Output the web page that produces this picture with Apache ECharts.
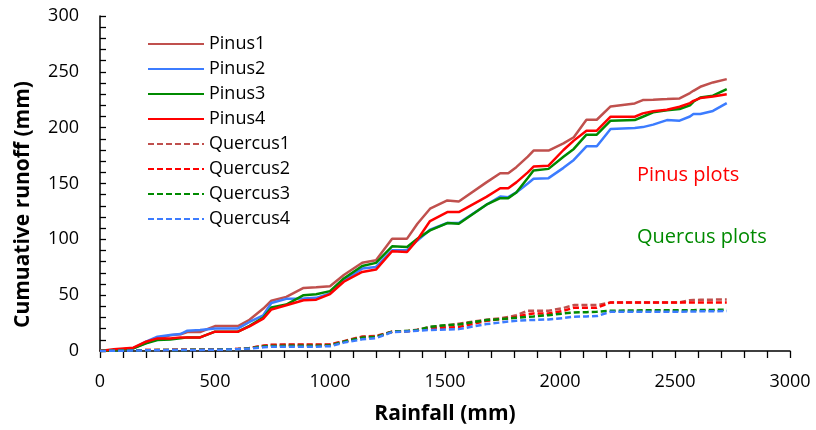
<!DOCTYPE html>
<html>
<head>
<meta charset="utf-8">
<script src="https://cdn.jsdelivr.net/npm/echarts@6/dist/echarts.min.js"></script>
<style>html,body{margin:0;padding:0;background:#fff;}#c{width:816px;height:430px;}</style>
</head>
<body>
<div id="c"></div>
<script>
const rainfall = [0,60,145,200,250,305,350,380,435,500,565,600,650,710,745,810,885,940,1000,1060,1140,1200,1270,1335,1380,1435,1510,1560,1680,1740,1775,1810,1860,1885,1950,2015,2060,2115,2160,2220,2325,2360,2405,2465,2520,2565,2580,2610,2665,2725];
const pinus1 = [0,1,2.5,7,11,14,15,17,17,22.3,22.3,22.3,28,38,45,48.5,56.5,57,58,68,79,81.3,100.6,100.6,114,127.4,134.8,133.9,151,159.2,159.2,164.6,174,179.5,179.5,186,191.4,207.1,207.1,219,221.7,224.7,225,225.6,226.2,231,233,236.6,240.5,243.5];
const pinus2 = [0,0.5,2.4,8.3,12.8,14.3,15.2,18.2,18.8,20.2,20.2,20.2,26,32,43,46.7,47,47.6,51.5,63,73.8,75.3,90.2,90.2,99,108.6,114.6,114.6,131,138.4,137.8,142,150,154.2,154.8,164,171.1,183.3,183.3,198.8,199.7,200.5,202.7,206.8,206.25,210,212.2,212.2,215,222];
const pinus3 = [0,0.5,2.4,6.8,9.8,10.3,11.3,12.2,12.2,17.3,17.3,17.3,22.5,30,39,41.6,50,50.9,53.6,65,76.2,78.9,93.8,93.2,100.5,108,114.6,114,131,136.9,136.9,142,155,161.6,163.1,174,181,193.75,193.75,206.25,206.8,209.8,213.7,215.5,216.7,220,223.2,227,228.6,234.5];
const pinus4 = [0,1.5,3,8.3,11.3,11.3,12.2,12.2,12.2,17.3,17.3,17.3,22,29,37.2,41,45.5,46,51,62,70.8,72.9,89.3,88.7,99.7,116.4,124.4,124.4,138,145.8,145.8,151,160,165.2,166,180,188.4,197.3,197.3,209.8,209.8,212.8,214.7,216,218.75,222,224,226.5,228,230];
const quercus1 = [0,0.3,0.6,0.8,1,1,1.1,1.2,1.2,1.3,1.5,1.8,2.6,4.8,5.6,5.8,5.8,5.8,6,8.8,13,13.5,17.3,17.8,19,21.5,23,24.5,28,29.2,30.5,32,36,36,36,38.5,41.1,41.1,41.1,43.5,43.5,43.5,43.5,43.5,43.5,45.5,45.7,45.8,46,46.1];
const quercus2 = [0,0.3,0.6,0.8,1,1,1.1,1.2,1.2,1.3,1.5,1.8,2.6,4.6,5.4,5.5,5.5,5.5,5.8,8.5,12.5,13,17.3,17.6,18.8,20.2,21,21.5,27,28.5,29.2,30.5,33,33.6,33.6,36,38.7,38.7,38.7,43.5,43.5,43.5,43.5,43.5,43.5,43.5,43.5,43.5,43.5,43.5];
const quercus3 = [0,0.3,0.5,0.7,0.8,0.9,1,1,1.1,1.2,1.4,1.7,2.4,4,4.5,4.6,4.6,4.6,5,8.3,12,12.5,17.3,18,18.8,21.7,23.2,23.8,27.7,28.5,29.2,29.8,30.6,31,32.1,33.6,34.5,34.8,35.1,36,36.3,36.5,36.6,36.6,36.6,36.6,36.6,36.7,36.8,37];
const quercus4 = [0,0.2,0.4,0.6,0.7,0.8,0.9,0.9,1,1.1,1.3,1.6,2.2,3.3,3.8,3.9,3.9,3.9,4.3,7.5,10.5,11.5,17,17.5,18.2,18.8,19.3,19.6,24.1,25.5,26.5,27,27.7,27.7,28.3,29.5,30.7,31,31.25,35.1,35.1,35.1,35.1,35.2,35.2,35.3,35.4,35.5,35.6,35.8];
const seriesNames = ['Pinus1','Pinus2','Pinus3','Pinus4','Quercus1','Quercus2','Quercus3','Quercus4'];
const seriesValues = [pinus1,pinus2,pinus3,pinus4,quercus1,quercus2,quercus3,quercus4];
const xTicks = [0,500,1000,1500,2000,2500,3000];
const yTicks = [0,50,100,150,200,250,300];
const annotations = ['Pinus plots','Quercus plots'];

const colors = ['#C0504D','#3C7CFF','#008A00','#FF0000','#C0504D','#FF0000','#008A00','#3C7CFF'];
const FONT = '"Open Sans", "Noto Sans", sans-serif';

const chart = echarts.init(document.getElementById('c'), null, {renderer:'canvas'});
const series = seriesNames.map((n, k) => ({
  name: n,
  type: 'line',
  symbol: 'none',
  smooth: false,
  color: colors[k],
  data: rainfall.map((r, i) => [r, seriesValues[k][i]]),
  lineStyle: {width: 2.5, color: colors[k], type: k < 4 ? 'solid' : [6, 3]},
  emphasis: {disabled: true},
  animation: false
}));

chart.setOption({
  animation: false,
  backgroundColor: '#ffffff',
  grid: {left: 100, right: 26, top: 16, bottom: 79, containLabel: false},
  legend: {
    orient: 'vertical', left: 147, top: 34, padding: 0,
    itemWidth: 56, itemHeight: 20, itemGap: 5,
    itemStyle: {opacity: 0},
    textStyle: {fontFamily: FONT, fontSize: 18, color: '#000', lineHeight: 20},
    data: seriesNames
  },
  xAxis: {
    type: 'value', min: 0, max: 3000, interval: 500,
    name: 'Rainfall (mm)', nameLocation: 'middle', nameGap: 53,
    nameTextStyle: {fontFamily: FONT, fontSize: 21, fontWeight: 'bold', color: '#000'},
    axisLine: {show: true, lineStyle: {color: '#000', width: 1.5}},
    axisTick: {show: true, inside: false, length: 7, lineStyle: {color: '#000', width: 1.3}},
    minorTick: {show: true, splitNumber: 5, length: 7, lineStyle: {color: '#000', width: 1.3}},
    splitLine: {show: false},
    axisLabel: {fontFamily: FONT, fontSize: 18, color: '#000', margin: 22,
      formatter: v => xTicks.includes(v) ? String(v) : ''}
  },
  yAxis: {
    type: 'value', min: 0, max: 300, interval: 50,
    name: 'Cumuative runoff (mm)', nameLocation: 'middle', nameGap: 66,
    nameTextStyle: {fontFamily: FONT, fontSize: 21, fontWeight: 'bold', color: '#000', padding: [0, 42, 0, 0]},
    axisLine: {show: true, lineStyle: {color: '#000', width: 1.5}},
    axisTick: {show: true, inside: true, length: 6, lineStyle: {color: '#000', width: 1.3}},
    minorTick: {show: true, splitNumber: 5, length: 6, lineStyle: {color: '#000', width: 1.3}},
    splitLine: {show: false},
    axisLabel: {fontFamily: FONT, fontSize: 18, color: '#000', margin: 21,
      formatter: v => yTicks.includes(v) ? String(v) : ''}
  },
  graphic: [
    {type: 'text', left: 637, top: 165, style: {text: annotations[0], fill: '#FF0000', font: '20px ' + FONT}},
    {type: 'text', left: 637, top: 227, style: {text: annotations[1], fill: '#008A00', font: '20px ' + FONT}}
  ],
  series: series
});
</script>
</body>
</html>
